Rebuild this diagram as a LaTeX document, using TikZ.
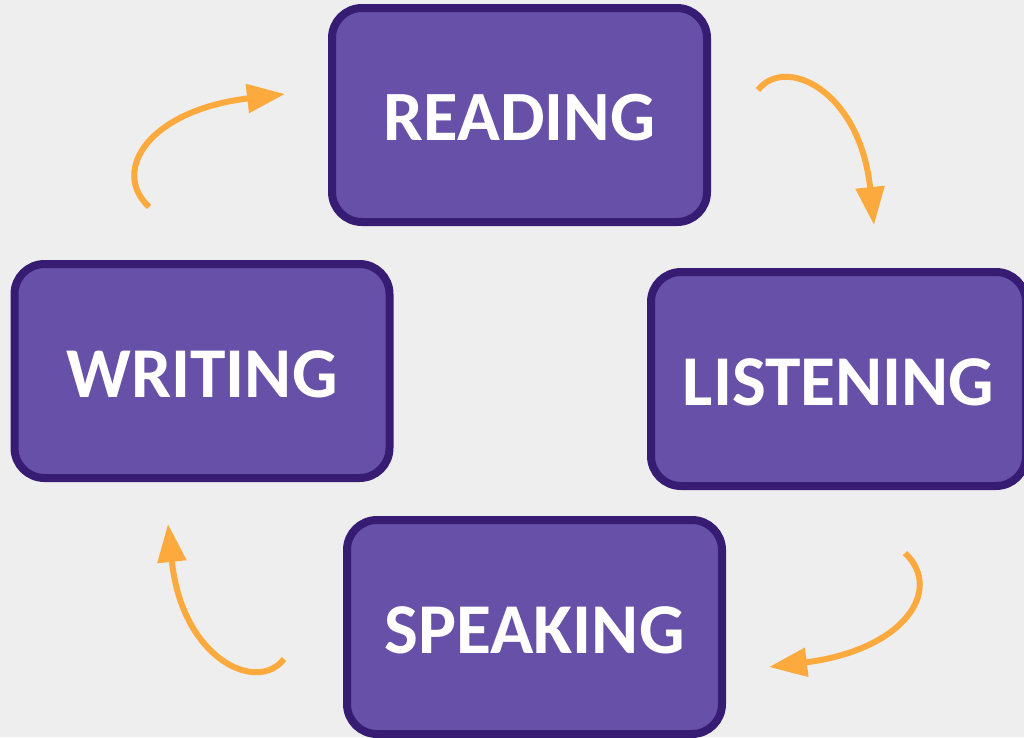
\documentclass[tikz,border=0pt]{standalone}
\usepackage{fontspec}
\setmainfont{Carlito}
\usetikzlibrary{arrows.meta}
\definecolor{bg}{HTML}{EEEEEE}
\definecolor{boxfill}{HTML}{6750A8}
\definecolor{boxline}{HTML}{371C74}
\definecolor{arrowc}{HTML}{FCAA3E}
\tikzset{
  skill/.style={rectangle, rounded corners=30pt, draw=boxline, fill=boxfill,
    line width=8pt, minimum width=375pt, minimum height=214pt, inner sep=0pt,
    text=white, font=\bfseries\fontsize{71.5}{78}\selectfont,
    text height=52.5pt, text depth=0pt},
  cyc/.style={draw=arrowc, line width=6pt,
    -{Triangle[length=38pt,width=28pt]}},
}
\begin{document}
\begin{tikzpicture}[x=1pt,y=-1pt]
\useasboundingbox (0,0) rectangle (1024,737);
\clip (0,0) rectangle (1024,737);
\fill[bg] (0,0) rectangle (1024,737);

\node[skill, font=\bfseries\fontsize{70.7}{77}\selectfont, text height=51.7pt] (reading) at (519.5,115) {READING};
\node[skill] (listening) at (838.5,379) {LISTENING};
\node[skill] (writing) at (202,371) {WRITING};
\node[skill] (speaking) at (534.5,627) {SPEAKING};

\coordinate (a1s) at (149,207); \coordinate (a1e) at (285,94);
\coordinate (a2s) at (758,90);  \coordinate (a2e) at (874,225);
\coordinate (a3s) at (905,553); \coordinate (a3e) at (769,667);
\coordinate (a4s) at (284,659); \coordinate (a4e) at (168,524);

\draw[cyc] (a1s) .. controls (110,170) and (150,110) .. (a1e);
\draw[cyc] (a2s) .. controls (785,55) and (860,90) .. (a2e);
\draw[cyc] (a3s) .. controls (944,590) and (904,650) .. (a3e);
\draw[cyc] (a4s) .. controls (257,694) and (182,659) .. (a4e);
\end{tikzpicture}
\end{document}
